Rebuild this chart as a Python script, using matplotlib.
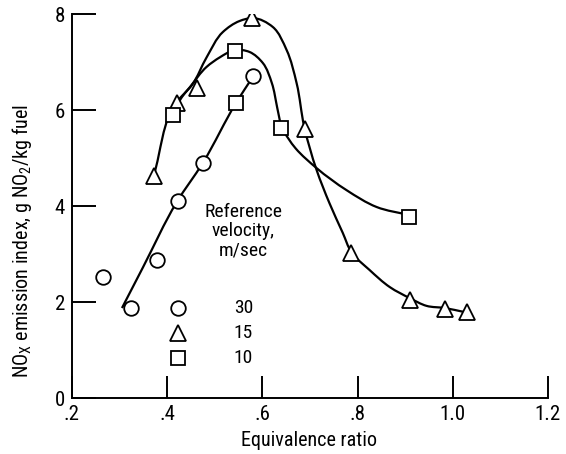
import numpy as np
import matplotlib
matplotlib.use('Agg')
import matplotlib.pyplot as plt
from matplotlib.path import Path
from matplotlib.patches import PathPatch

# marker data
circle_x = [0.265, 0.323, 0.378, 0.422, 0.476, 0.581]
circle_y = [2.53, 1.87, 2.88, 4.10, 4.90, 6.70]

triangle_x = [0.372, 0.420, 0.462, 0.579, 0.690, 0.786, 0.910, 0.983, 1.030]
triangle_y = [4.63, 6.15, 6.45, 7.92, 5.60, 3.02, 2.05, 1.85, 1.80]

square_x = [0.412, 0.543, 0.545, 0.640, 0.908]
square_y = [5.90, 7.23, 6.14, 5.62, 3.78]

# hand-faired curves, points
circle_curve_x = [0.305, 0.349, 0.420, 0.475, 0.546, 0.580]
circle_curve_y = [1.875, 2.72, 4.08, 4.90, 6.17, 6.69]

triangle_curve_x = [0.372, 0.420, 0.452, 0.483, 0.517, 0.552, 0.580, 0.622, 0.651,
                    0.672, 0.688, 0.714, 0.741, 0.769, 0.787, 0.825, 0.868, 0.910,
                    0.945, 0.983, 1.025]
triangle_curve_y = [4.646, 6.167, 6.52, 7.10, 7.625, 7.854, 7.917, 7.73, 7.25,
                    6.56, 5.65, 4.75, 4.06, 3.44, 3.04, 2.67, 2.31, 2.08,
                    1.92, 1.875, 1.79]

# square curve: rise and fall up to the square at .64, then the tail
square_curve_x = [0.412, 0.431, 0.448, 0.483, 0.511, 0.542, 0.573, 0.601, 0.620,
                  0.631, 0.640]
square_curve_y = [5.90, 6.27, 6.48, 6.90, 7.10, 7.25, 7.21, 6.98, 6.56,
                  6.06, 5.62]
square_tail_x = [0.640, 0.670, 0.714, 0.777, 0.840, 0.909]
square_tail_y = [5.62, 5.20, 4.79, 4.33, 3.98, 3.81]

legend_labels = ['30', '15', '10']
x_ticks = [0.2, 0.4, 0.6, 0.8, 1.0, 1.2]
x_tick_labels = ['.2', '.4', '.6', '.8', '1.0', '1.2']
y_ticks = [0, 2, 4, 6, 8]

plt.rcParams['font.family'] = ['Roboto Condensed', 'DejaVu Sans']
plt.rcParams['mathtext.fontset'] = 'custom'
plt.rcParams['mathtext.rm'] = 'Roboto Condensed'

PX_X, PX_Y = 477.0, 48.0  # pixels per data unit, for even spacing of the spline


def smooth_path(xs, ys):
    # chord-length Catmull-Rom through the traced points, as bezier segments
    pts = np.column_stack([xs, ys])
    scale = np.array([PX_X, PX_Y])
    n = len(pts)

    def d(a, b):
        return max(np.hypot(*((pts[a] - pts[b]) * scale)), 1e-6)

    def tangent(i):
        if i == 0:
            return (pts[1] - pts[0]) / d(0, 1)
        if i == n - 1:
            return (pts[-1] - pts[-2]) / d(n - 1, n - 2)
        a, b = d(i - 1, i), d(i, i + 1)
        return ((pts[i] - pts[i - 1]) / a * b + (pts[i + 1] - pts[i]) / b * a) / (a + b)

    verts = [pts[0]]
    codes = [Path.MOVETO]
    for i in range(n - 1):
        L = d(i, i + 1)
        c1 = pts[i] + tangent(i) * L / 3.0
        c2 = pts[i + 1] - tangent(i + 1) * L / 3.0
        verts += [c1, c2, pts[i + 1]]
        codes += [Path.CURVE4] * 3
    return Path(verts, codes)


fig = plt.figure(figsize=(5.66, 4.54), dpi=100)
ax = fig.add_axes([0.1272, 0.1233, 0.8408, 0.8458])

for cx, cy in [(circle_curve_x, circle_curve_y),
               (triangle_curve_x, triangle_curve_y),
               (square_curve_x, square_curve_y),
               (square_tail_x, square_tail_y)]:
    ax.add_patch(PathPatch(smooth_path(cx, cy), fill=False, lw=1.6,
                           edgecolor='black', zorder=2))

mk = dict(ls='', mfc='white', mec='black', mew=1.3, zorder=3)
ax.plot(circle_x, circle_y, marker='o', ms=10.5, **mk)
ax.plot(triangle_x, triangle_y, marker='^', ms=11.5, **mk)
ax.plot(square_x, square_y, marker='s', ms=10, **mk)

ax.set_xlim(0.2, 1.2)
ax.set_ylim(0, 8)
ax.spines['top'].set_visible(False)
ax.spines['right'].set_visible(False)
for s in ['left', 'bottom']:
    ax.spines[s].set_linewidth(1.4)
ax.set_xticks(x_ticks)
ax.set_xticklabels(x_tick_labels)
ax.set_yticks(y_ticks)
ax.tick_params(axis='x', direction='in', length=16, width=1.4, labelsize=15, pad=5)
ax.tick_params(axis='y', direction='in', length=17, width=1.4, labelsize=15, pad=5)

# legend block drawn as text + markers
ax.text(0.56, 3.48, 'Reference\nvelocity,\nm/sec', ha='center', va='center',
        fontsize=14, linespacing=1.1)
leg_y = [1.88, 1.35, 0.83]
leg_mk = ['o', '^', 's']
leg_ms = [10.5, 11.5, 10]
for yy, m, s, lab in zip(leg_y, leg_mk, leg_ms, legend_labels):
    ax.plot([0.422], [yy], marker=m, ms=s, **mk)
    ax.text(0.56, yy, lab, ha='center', va='center', fontsize=14)

fig.text(0.546, 0.03, 'Equivalence ratio', ha='center', va='center', fontsize=14.5)
fig.text(0.039, 0.47, 'NO$_\\mathregular{X}$ emission index, g NO$_\\mathregular{2}$/kg fuel',
         ha='center', va='center', rotation=90, fontsize=14.5)

fig.savefig('out.png', dpi=100)
